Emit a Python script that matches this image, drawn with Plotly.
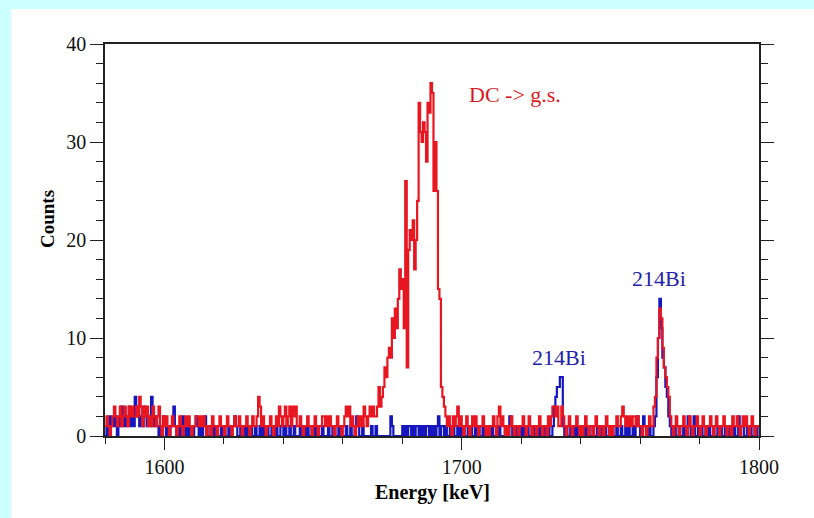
import numpy as np
import plotly.graph_objects as go

# Spectrum binning (keV)
E_START = 1580.0
BIN_WIDTH = 0.5

# Red spectrum: counts per 0.5 keV bin, one row per 10 keV starting at 1580 keV
red_counts = [
    1, 2, 1, 0, 1, 2, 3, 2, 1, 2, 3, 1, 2, 3, 2, 1, 3, 2, 3, 2,          # 1580
    2, 3, 2, 4, 3, 1, 3, 2, 3, 1, 2, 1, 3, 2, 1, 2, 3, 1, 0, 2,          # 1590
    1, 2, 1, 0, 1, 2, 1, 1, 0, 1, 2, 1, 0, 1, 2, 1, 2, 1, 0, 1,          # 1600
    1, 2, 2, 1, 2, 1, 2, 1, 0, 1, 1, 0, 2, 1, 1, 0, 1, 2, 1, 1,          # 1610
    0, 1, 2, 1, 1, 0, 1, 2, 1, 1, 2, 1, 0, 1, 1, 2, 1, 0, 1, 2,          # 1620
    1, 1, 2, 4, 3, 1, 2, 1, 0, 1, 1, 2, 1, 0, 1, 2, 1, 3, 2, 1,          # 1630
    2, 3, 1, 2, 3, 1, 3, 2, 3, 1, 1, 2, 1, 0, 1, 1, 2, 1, 1, 0,          # 1640
    1, 2, 1, 0, 1, 1, 2, 2, 1, 2, 1, 2, 1, 1, 0, 1, 2, 1, 1, 0,          # 1650
    1, 2, 3, 2, 3, 1, 2, 1, 0, 1, 2, 1, 2, 1, 3, 2, 1, 2, 3, 2,          # 1660
    3, 2, 2, 3, 5, 3, 4, 5, 7, 6, 8, 9, 8, 12, 10, 13, 11, 14, 17, 15,   # 1670
    16, 11, 26, 7, 19, 21, 20, 22, 17, 20, 24, 34, 31, 30, 32, 31, 28, 34, 33, 36,  # 1680
    35, 25, 30, 25, 15, 14, 5, 4, 3, 2, 1, 2, 1, 0, 2, 1, 2, 3, 1, 2,    # 1690
    1, 0, 1, 2, 1, 0, 1, 2, 1, 2, 1, 0, 1, 1, 2, 1, 0, 1, 0, 1,          # 1700
    1, 2, 1, 0, 2, 3, 1, 2, 1, 0, 1, 0, 1, 2, 1, 0, 1, 1, 0, 1,          # 1710
    1, 2, 1, 0, 1, 2, 1, 0, 1, 1, 0, 1, 2, 1, 0, 1, 1, 0, 2, 1,          # 1720
    2, 3, 3, 2, 3, 1, 1, 3, 2, 1, 0, 1, 2, 1, 0, 1, 1, 2, 1, 0,          # 1730
    1, 0, 1, 2, 1, 0, 1, 1, 0, 1, 2, 1, 0, 1, 1, 0, 1, 2, 1, 0,          # 1740
    1, 0, 1, 1, 2, 1, 1, 2, 3, 2, 1, 2, 1, 2, 1, 2, 2, 1, 2, 1,          # 1750
    1, 0, 1, 1, 0, 1, 2, 1, 1, 3, 4, 8, 10, 13, 12, 9, 7, 6, 5, 4,       # 1760
    2, 1, 0, 1, 2, 1, 0, 1, 1, 2, 1, 0, 1, 2, 1, 0, 1, 1, 2, 1,          # 1770
    0, 1, 2, 1, 0, 1, 1, 2, 1, 0, 1, 2, 1, 0, 1, 1, 2, 1, 0, 1,          # 1780
    1, 0, 2, 1, 1, 2, 1, 0, 1, 2, 1, 2, 1, 0, 1, 2, 1, 0, 1, 1,          # 1790
]

# Blue spectrum: same binning
blue_counts = [
    0, 1, 0, 2, 1, 1, 2, 1, 0, 2, 1, 3, 1, 2, 1, 2, 3, 1, 2, 1,          # 1580
    4, 2, 3, 1, 2, 1, 3, 2, 1, 2, 1, 4, 2, 1, 2, 1, 0, 1, 1, 2,          # 1590
    1, 0, 1, 0, 1, 1, 3, 1, 0, 1, 0, 1, 2, 1, 0, 1, 0, 1, 1, 0,          # 1600
    1, 2, 1, 0, 1, 0, 1, 2, 1, 0, 0, 1, 0, 1, 0, 1, 0, 0, 1, 0,          # 1610
    1, 0, 0, 1, 0, 1, 1, 2, 1, 0, 0, 1, 0, 0, 1, 0, 1, 0, 1, 0,          # 1620
    0, 1, 0, 0, 1, 0, 1, 0, 0, 1, 0, 0, 1, 0, 0, 1, 0, 0, 1, 1,          # 1630
    0, 1, 0, 0, 1, 0, 0, 1, 0, 0, 0, 1, 0, 0, 1, 0, 1, 0, 0, 1,          # 1640
    1, 0, 1, 1, 0, 0, 1, 0, 0, 0, 1, 0, 0, 1, 1, 0, 0, 1, 0, 0,          # 1650
    0, 0, 1, 0, 0, 1, 0, 0, 1, 2, 1, 0, 0, 1, 0, 0, 0, 0, 0, 1,          # 1660
    0, 0, 1, 0, 0, 0, 0, 0, 0, 0, 0, 0, 2, 1, 0, 0, 0, 0, 0, 0,          # 1670
    1, 0, 1, 0, 1, 1, 0, 1, 0, 1, 1, 0, 1, 0, 1, 0, 1, 1, 0, 1,          # 1680
    0, 1, 0, 1, 2, 0, 1, 1, 0, 1, 0, 0, 1, 0, 1, 0, 0, 1, 0, 1,          # 1690
    0, 1, 0, 0, 1, 0, 1, 0, 0, 1, 0, 1, 0, 0, 1, 0, 0, 1, 0, 0,          # 1700
    1, 0, 0, 1, 0, 1, 0, 0, 0, 1, 0, 0, 2, 1, 0, 0, 1, 0, 0, 1,          # 1710
    0, 1, 0, 0, 1, 0, 0, 1, 0, 1, 0, 0, 1, 0, 0, 1, 0, 0, 1, 0,          # 1720
    0, 1, 3, 4, 5, 5, 6, 6, 1, 0, 1, 0, 0, 1, 0, 0, 1, 0, 1, 0,          # 1730
    1, 0, 0, 1, 0, 1, 0, 0, 1, 0, 0, 1, 0, 0, 1, 0, 1, 0, 0, 1,          # 1740
    0, 1, 0, 0, 1, 0, 0, 1, 0, 0, 1, 0, 1, 0, 0, 1, 0, 1, 2, 1,          # 1750
    0, 1, 2, 1, 0, 0, 1, 0, 0, 1, 2, 6, 10, 14, 11, 8, 7, 5, 4, 2,       # 1760
    1, 0, 0, 1, 0, 0, 1, 0, 0, 1, 0, 0, 2, 1, 0, 1, 2, 0, 0, 1,          # 1770
    0, 1, 0, 0, 1, 0, 1, 0, 0, 1, 0, 0, 1, 0, 1, 0, 0, 1, 0, 1,          # 1780
    0, 1, 0, 1, 0, 0, 2, 0, 1, 1, 0, 0, 1, 0, 1, 0, 0, 1, 0, 1,          # 1790
]

# Peak labels: (text, energy, counts)
dc_label = ("DC -> g.s.", 1718.0, 34.8)
bi_labels = [("214Bi", 1732.7, 8.0), ("214Bi", 1766.4, 16.1)]

RED = "rgb(232,22,32)"
BLUE = "rgb(22,22,190)"
SERIF = "Liberation Serif, Times New Roman, serif"


def step_xy(counts):
    """Left bin edges plus closing edge, for an 'hv' step line."""
    c = list(counts)
    x = E_START + BIN_WIDTH * np.arange(len(c) + 1)
    return x, c + [c[-1]]


fig = go.Figure()
for counts, color in ((blue_counts, BLUE), (red_counts, RED)):
    xs, ys = step_xy(counts)
    fig.add_trace(go.Scatter(x=xs, y=ys, mode="lines", line_shape="hv",
                             line=dict(color=color, width=2.2), showlegend=False,
                             hoverinfo="skip"))

fig.add_annotation(text=dc_label[0], x=dc_label[1], y=dc_label[2],
                   xref="x", yref="y", showarrow=False,
                   xanchor="center", yanchor="middle",
                   font=dict(family=SERIF, size=22, color="rgb(220,25,35)"))
for txt, ex, ey in bi_labels:
    fig.add_annotation(text=txt, x=ex, y=ey, xref="x", yref="y", showarrow=False,
                       xanchor="center", yanchor="middle",
                       font=dict(family=SERIF, size=22, color="rgb(35,35,170)"))

# plot area in pixels
L, R, T, B = 105, 759, 44, 436
W, H = 814, 518
pw, ph = R - L, B - T


def px(xp):
    return (xp - L) / pw


def py(yp):
    return (B - yp) / ph


# white page panel over the cyan border
fig.add_shape(type="rect", xref="paper", yref="paper", layer="below",
              x0=px(11), x1=px(W + 2), y0=py(9), y1=py(H + 2),
              line=dict(width=0), fillcolor="white")

# axis titles
fig.add_annotation(text="<b>Energy [keV]</b>", xref="paper", yref="paper",
                   x=px(432), y=py(492), showarrow=False,
                   xanchor="center", yanchor="middle",
                   font=dict(family=SERIF, size=20, color="black"))
fig.add_annotation(text="<b>Counts</b>", xref="paper", yref="paper",
                   x=px(47), y=py(219), showarrow=False, textangle=-90,
                   xanchor="center", yanchor="middle",
                   font=dict(family=SERIF, size=19, color="black"))

axis_common = dict(showline=True, linecolor="#222", linewidth=1.5,
                   showgrid=False, zeroline=False, ticks="outside",
                   tickcolor="#222", tickwidth=1.3,
                   tickfont=dict(family=SERIF, size=20, color="#111"))

fig.update_xaxes(range=[1580, 1800], tick0=1600, dtick=100, ticklen=12,
                 mirror=True, ticklabelstandoff=0,
                 minor=dict(dtick=20, tick0=1580, ticklen=6, ticks="outside",
                            tickcolor="#222", tickwidth=1.2),
                 **axis_common)
fig.update_yaxes(range=[0, 40], tick0=0, dtick=10, ticklen=13,
                 mirror="ticks",
                 minor=dict(dtick=2, ticklen=7, ticks="outside",
                            tickcolor="#222", tickwidth=1.2),
                 **axis_common)

fig.update_layout(width=W, height=H, margin=dict(l=L, r=W - R, t=T, b=H - B),
                  paper_bgcolor="#ccffff", plot_bgcolor="white",
                  showlegend=False)

fig.write_html("out.html")
